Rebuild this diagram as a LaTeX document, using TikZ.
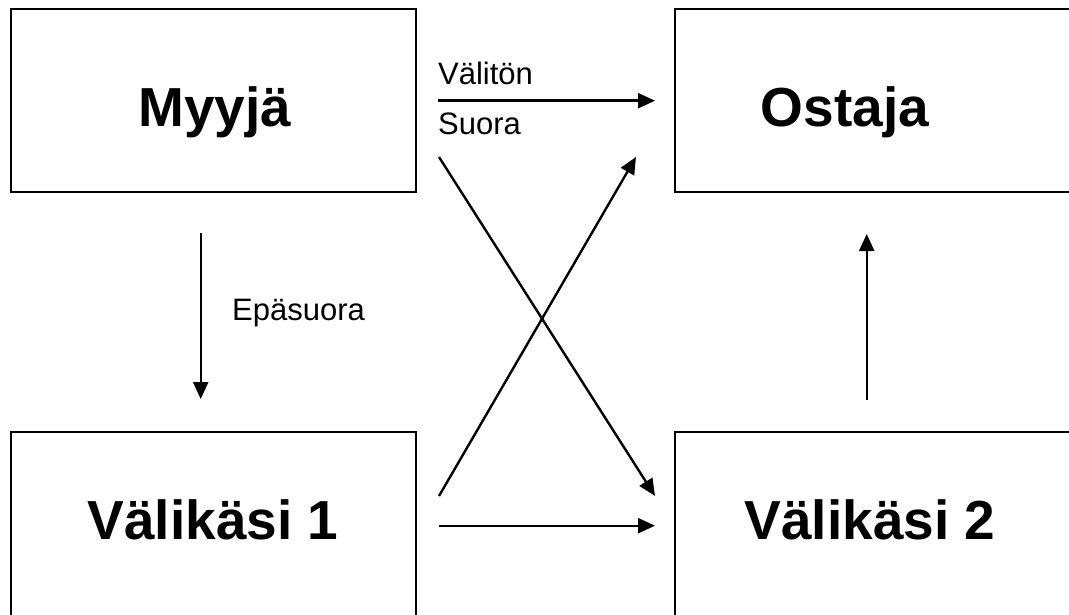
\documentclass[tikz,border=0pt]{standalone}
\usepackage{fontspec}
\setmainfont{Liberation Sans}
\usetikzlibrary{arrows.meta}
\begin{document}
\begin{tikzpicture}[x=1pt,y=-1pt,
  party/.style={draw=black,line width=2.2pt,rectangle,inner sep=0pt},
  title/.style={font=\bfseries\fontsize{55}{62}\selectfont,inner sep=0pt,anchor=base},
  tag/.style={font=\fontsize{31}{36}\selectfont,inner sep=0pt,anchor=base west},
  flow/.style={line width=2.4pt,-{Triangle[length=17pt,width=15pt]}}]
\useasboundingbox (0,0) rectangle (1069,615);
\clip (0,0) rectangle (1069,615);
% the four parties
\node[party,minimum width=405pt,minimum height=183pt] (myyja) at (213.5,100.5) {};
\node[party,minimum width=420pt,minimum height=183pt] (ostaja) at (885,100.5) {};
\node[party,minimum width=405pt,minimum height=200pt] (v1) at (213.5,532) {};
\node[party,minimum width=420pt,minimum height=200pt] (v2) at (885,532) {};
\node[title] (tmyyja) at (215,127) {Myyjä};
\node[title] (tostaja) at (845,127) {Ostaja};
\node[title] (tv1) at (213,539) {Välikäsi 1};
\node[title] (tv2) at (870,539) {Välikäsi 2};
% arrow end points
\coordinate (d0) at (438,100.7);
\coordinate (d1) at (655,100.7);
\coordinate (e0) at (200.7,233);
\coordinate (e1) at (200.7,399);
\coordinate (s0) at (439,157);
\coordinate (s1) at (655,496);
\coordinate (u0) at (439,496);
\coordinate (u1) at (636,157);
\coordinate (h0) at (439,525.7);
\coordinate (h1) at (655,525.7);
\coordinate (r0) at (866.7,400);
\coordinate (r1) at (866.7,234);
% connectors
\draw[flow] (d0) -- (d1);
\draw[flow] (e0) -- (e1);
\draw[flow] (s0) -- (s1);
\draw[flow] (u0) -- (u1);
\draw[flow] (h0) -- (h1);
\draw[flow] (r0) -- (r1);
% labels
\node[tag] (lvalit) at (438,85) {Välitön};
\node[tag] (lsuora) at (438,135) {Suora};
\node[tag] (lepas) at (232,320) {Epäsuora};
\end{tikzpicture}
\end{document}
